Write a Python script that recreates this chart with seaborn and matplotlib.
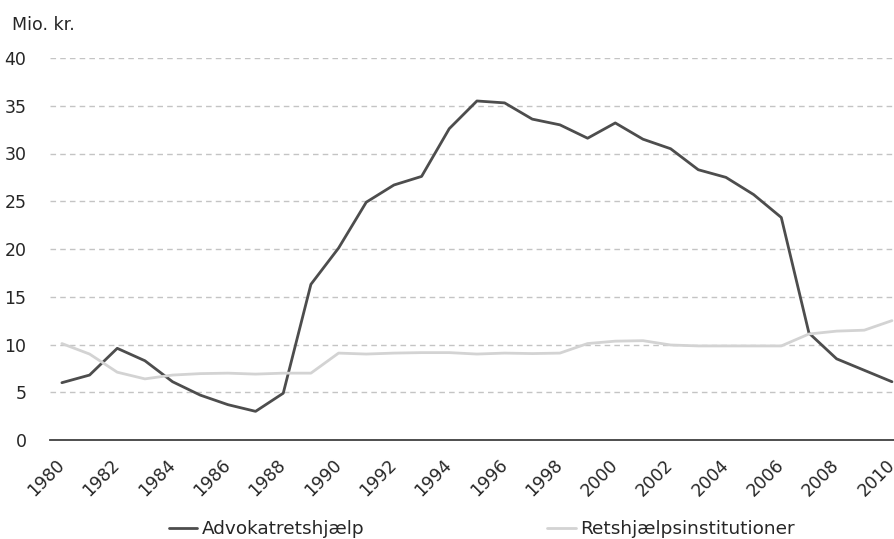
import numpy as np
import pandas as pd
import matplotlib
matplotlib.use("Agg")
import matplotlib.pyplot as plt
import seaborn as sns

# Data (Mio. kr.)
years = list(range(1980, 2011))
advokat = [6.0, 6.8, 9.6, 8.3, 6.1, 4.7, 3.7, 3.0, 4.9, 16.3,
           20.1, 24.9, 26.7, 27.6, 32.6, 35.5, 35.3, 33.6, 33.0, 31.6,
           33.2, 31.5, 30.5, 28.3, 27.5, 25.7, 23.3, 11.2, 8.5, 7.3,
           6.1]
retshjaelp = [10.1, 9.0, 7.1, 6.4, 6.8, 6.95, 7.0, 6.9, 7.0, 7.0,
              9.1, 9.0, 9.1, 9.15, 9.15, 9.0, 9.1, 9.05, 9.1, 10.1,
              10.35, 10.4, 9.95, 9.85, 9.85, 9.85, 9.85, 11.1, 11.4, 11.5,
              12.5]
serie_navne = ["Advokatretshjælp", "Retshjælpsinstitutioner"]
farver = ["#4d4d4d", "#d3d3d3"]

df = pd.DataFrame({"aar": years * 2,
                   "vaerdi": advokat + retshjaelp,
                   "serie": [serie_navne[0]] * len(years) + [serie_navne[1]] * len(years)})

sns.set_style("white")
plt.rcParams['font.family'] = ['DejaVu Sans']

fig = plt.figure(figsize=(8.95, 5.39), dpi=100)
ax = fig.add_axes([50 / 895, 99 / 539, 845 / 895, 382 / 539])

sns.lineplot(data=df, x="aar", y="vaerdi", hue="serie", palette=farver,
             linewidth=2.0, ax=ax, legend=False)

ax.set_xlim(1979.57, 2010.11)
ax.set_ylim(0, 40)
ax.set_yticks(range(0, 41, 5))
ax.set_xticks(range(1980, 2011, 2))
ax.set_xticklabels([str(y) for y in range(1980, 2011, 2)], rotation=45,
                   ha="right", va="center", rotation_mode="anchor", fontsize=12.5)
ax.tick_params(axis="y", labelsize=12.5, length=0, pad=17)
ax.tick_params(axis="x", length=0, pad=16)
ax.set_xlabel("")
ax.set_ylabel("")

# stiplede gitterlinjer
ax.yaxis.grid(True, linestyle=(0, (4, 3)), color="#c4c4c4", linewidth=1.0)
ax.xaxis.grid(False)
ax.set_axisbelow(True)
for side in ["top", "right", "left"]:
    ax.spines[side].set_visible(False)
ax.spines["bottom"].set_color("#404040")
ax.spines["bottom"].set_linewidth(1.3)

fig.text(12 / 895, 1 - 25 / 539, "Mio. kr.", fontsize=12.5, va="center", ha="left")

handles = [plt.Line2D([], [], color=c, linewidth=2.0) for c in farver]
fig.legend(handles, serie_navne, loc="center", bbox_to_anchor=(482 / 895, 1 - 529 / 539),
           ncol=2, frameon=False, fontsize=13.3, handlelength=1.52, handletextpad=0.27,
           columnspacing=9.9, borderaxespad=0, borderpad=0)

fig.savefig("out.png", dpi=100)
